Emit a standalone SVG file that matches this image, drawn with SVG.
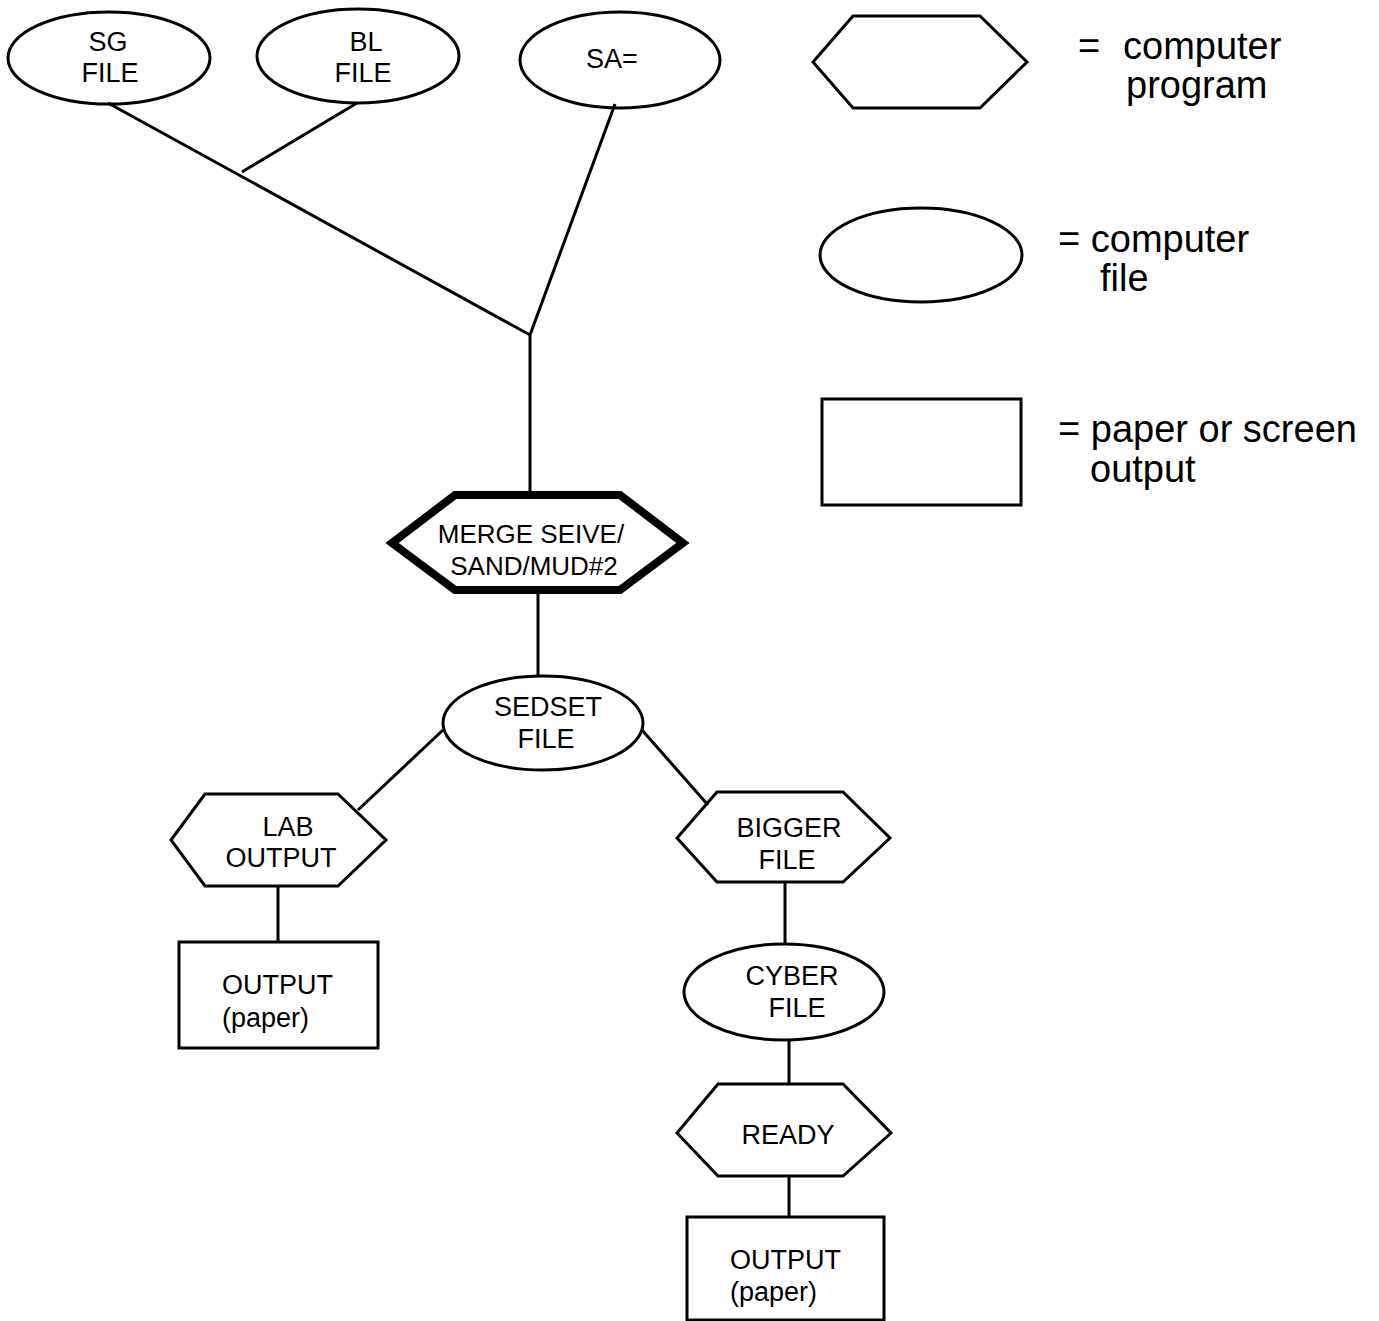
<svg xmlns="http://www.w3.org/2000/svg" width="1379" height="1321" viewBox="0 0 1379 1321">
<style>
.s{fill:none;stroke:#000;stroke-width:3;stroke-linejoin:miter}
.c{fill:none;stroke:#000;stroke-width:3}
.t{font-family:"Liberation Sans",Arial,sans-serif;font-size:27px;fill:#000}
.m{text-anchor:middle}
.L{font-family:"Liberation Sans",Arial,sans-serif;font-size:38px;fill:#000}
</style>
<rect width="1379" height="1321" fill="#fff"/>
<g id="connectors">
<line class="c" x1="108" y1="103" x2="530" y2="335"/>
<line class="c" x1="357" y1="103" x2="242" y2="172"/>
<line class="c" x1="615" y1="104" x2="530" y2="335"/>
<line class="c" x1="530" y1="335" x2="530" y2="495"/>
<line class="c" x1="538" y1="590" x2="538" y2="677"/>
<line class="c" x1="443" y1="730" x2="358" y2="810"/>
<line class="c" x1="642" y1="730" x2="708" y2="805"/>
<line class="c" x1="278" y1="886" x2="278" y2="942"/>
<line class="c" x1="785" y1="882" x2="785" y2="945"/>
<line class="c" x1="789" y1="1040" x2="789" y2="1084"/>
<line class="c" x1="789" y1="1176" x2="789" y2="1217"/>
</g>
<g id="sg-file">
<ellipse class="s" cx="109" cy="58" rx="101" ry="46"/>
<text class="t m" x="108" y="51">SG</text>
<text class="t m" x="110" y="82">FILE</text>
</g>
<g id="bl-file">
<ellipse class="s" cx="358" cy="56" rx="101" ry="47"/>
<text class="t m" x="366" y="51">BL</text>
<text class="t m" x="363" y="82">FILE</text>
</g>
<g id="sa-file">
<ellipse class="s" cx="620" cy="60" rx="100" ry="48"/>
<text class="t m" x="612" y="68">SA=</text>
</g>
<g id="merge">
<polygon points="392,543 455,495 620,495 683,543 620,590 455,590" fill="#fff" stroke="#000" stroke-width="8" stroke-linejoin="miter"/>
<text class="t m" x="531" y="543" style="font-size:26px">MERGE SEIVE/</text>
<text class="t m" x="534" y="575" style="font-size:26px">SAND/MUD#2</text>
</g>
<g id="sedset-file">
<ellipse class="s" cx="543" cy="723" rx="100" ry="47" fill="#fff"/>
<text class="t m" x="548" y="716">SEDSET</text>
<text class="t m" x="546" y="748">FILE</text>
</g>
<g id="lab-output">
<polygon class="s" points="171,840 205,794 338,794 386,840 338,886 205,886"/>
<text class="t m" x="288" y="836">LAB</text>
<text class="t m" x="281" y="867">OUTPUT</text>
</g>
<g id="output-paper-1">
<rect class="s" x="179" y="942" width="199" height="106"/>
<text class="t" x="222" y="994">OUTPUT</text>
<text class="t" x="222" y="1027">(paper)</text>
</g>
<g id="bigger-file">
<polygon class="s" points="677,838 717,792 843,792 890,838 843,882 717,882"/>
<text class="t m" x="789" y="837">BIGGER</text>
<text class="t m" x="787" y="869">FILE</text>
</g>
<g id="cyber-file">
<ellipse class="s" cx="784" cy="992" rx="100" ry="48"/>
<text class="t m" x="792" y="985">CYBER</text>
<text class="t m" x="797" y="1017">FILE</text>
</g>
<g id="ready">
<polygon class="s" points="677,1133 718,1084 843,1084 891,1133 843,1176 718,1176"/>
<text class="t m" x="788" y="1144">READY</text>
</g>
<g id="output-paper-2">
<rect class="s" x="687" y="1217" width="197" height="103"/>
<text class="t" x="730" y="1269">OUTPUT</text>
<text class="t" x="730" y="1301">(paper)</text>
</g>
<g id="legend-program">
<polygon class="s" points="813,62 853,16 980,16 1027,62 980,108 853,108"/>
<text class="L" x="1078" y="59">=</text>
<text class="L" x="1123" y="59">computer</text>
<text class="L" x="1126" y="98">program</text>
</g>
<g id="legend-file">
<ellipse class="s" cx="921" cy="255" rx="101" ry="47"/>
<text class="L" x="1058" y="252">= computer</text>
<text class="L" x="1100" y="291">file</text>
</g>
<g id="legend-output">
<rect class="s" x="822" y="399" width="199" height="106"/>
<text class="L" x="1058" y="442">= paper or screen</text>
<text class="L" x="1090" y="482">output</text>
</g>
</svg>
